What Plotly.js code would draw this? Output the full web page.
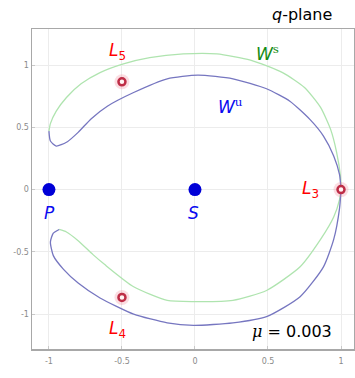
<!DOCTYPE html>
<html>
<head>
<meta charset="utf-8">
<script src="https://cdn.plot.ly/plotly-3.0.1.min.js"></script>
<style>
  html, body { margin: 0; padding: 0; background: #fff; }
  #chart { width: 355px; height: 378px; }
</style>
</head>
<body>
<div id="chart"></div>
<script>
// Primaries: P (planet) and S (sun)
const bodyNames = ['P', 'S'];
const bodyX = [-1.0, 0.0];
const bodyY = [0.0, 0.0];

// Lagrange points L3, L4, L5
const lagrNames = ['L3', 'L4', 'L5'];
const lagrX = [1.0, -0.5, -0.5];
const lagrY = [0.0, -0.866, 0.866];

// Upper branch of the unstable manifold W^u (inner curve, L3 -> hook near P)
const wuUpperX = [1.0, 0.99, 0.95, 0.88, 0.79, 0.65, 0.49, 0.26, 0.02, -0.19, -0.42, -0.60, -0.71, -0.80, -0.88, -0.95, -0.99, -1.0];
const wuUpperY = [0.0, 0.12, 0.27, 0.43, 0.56, 0.71, 0.81, 0.89, 0.92, 0.89, 0.78, 0.67, 0.57, 0.46, 0.38, 0.35, 0.39, 0.47];

// Upper branch of the stable manifold W^s (outer curve, hook -> L3)
const wsUpperX = [-1.0, -0.99, -0.95, -0.88, -0.78, -0.65, -0.49, -0.31, -0.08, 0.15, 0.38, 0.60, 0.75, 0.86, 0.93, 0.97, 0.995, 1.0];
const wsUpperY = [0.47, 0.53, 0.63, 0.74, 0.85, 0.94, 1.01, 1.06, 1.09, 1.09, 1.04, 0.94, 0.82, 0.66, 0.48, 0.30, 0.12, 0.0];

// Lower branch of W^u (outer curve, L3 -> hook near P)
const wuLowerX = [1.0, 0.99, 0.95, 0.88, 0.72, 0.49, 0.26, -0.01, -0.19, -0.42, -0.65, -0.80, -0.90, -0.97, -0.99, -0.97, -0.93];
const wuLowerY = [0.0, -0.15, -0.40, -0.62, -0.86, -1.02, -1.07, -1.09, -1.07, -1.0, -0.87, -0.75, -0.64, -0.53, -0.42, -0.35, -0.32];

// Lower branch of W^s (inner curve, hook -> L3)
const wsLowerX = [-0.93, -0.88, -0.80, -0.70, -0.62, -0.42, -0.19, -0.01, 0.26, 0.49, 0.72, 0.86, 0.95, 0.99, 1.0];
const wsLowerY = [-0.32, -0.34, -0.41, -0.52, -0.60, -0.78, -0.89, -0.90, -0.89, -0.81, -0.62, -0.40, -0.22, -0.08, 0.0];

const tickVals = [-1, -0.5, 0, 0.5, 1];
const tickText = ['-1', '-0.5', '0', '0.5', '1'];

const muValue = '0.003';

const blueLine = 'rgb(118,118,192)';
const greenLine = 'rgb(175,228,175)';

function curve(x, y, color) {
  return {
    x: x, y: y, type: 'scatter', mode: 'lines',
    line: { color: color, width: 1.3, shape: 'spline', smoothing: 0.6 },
    hoverinfo: 'skip', showlegend: false
  };
}

const traces = [
  curve(wsUpperX, wsUpperY, greenLine),
  curve(wsLowerX, wsLowerY, greenLine),
  curve(wuUpperX, wuUpperY, blueLine),
  curve(wuLowerX, wuLowerY, blueLine),
  // soft halo round the Lagrange points
  {
    x: lagrX, y: lagrY, type: 'scatter', mode: 'markers',
    marker: { size: 15, color: 'rgba(240,120,140,0.25)', line: { width: 0 } },
    hoverinfo: 'skip', showlegend: false
  },
  {
    x: lagrX, y: lagrY, type: 'scatter', mode: 'markers',
    marker: { size: 7, color: '#fff4f4', line: { color: 'rgb(190,45,70)', width: 2.5 } },
    hoverinfo: 'skip', showlegend: false
  },
  {
    x: bodyX, y: bodyY, type: 'scatter', mode: 'markers',
    marker: { size: 13, color: 'rgb(0,0,215)', line: { width: 0 } },
    hoverinfo: 'skip', showlegend: false
  }
];

const labFont = { family: 'DejaVu Sans', size: 17 };
const red = 'rgb(255,0,0)';
const blue = 'rgb(10,10,240)';

function lab(text, x, y, color, dx, dy) {
  return {
    text: text, x: x, y: y, xref: 'x', yref: 'y',
    xshift: dx, yshift: dy, showarrow: false,
    font: Object.assign({}, labFont, { color: color })
  };
}

const annotations = [
  lab('<i>L</i><sub>3</sub>', lagrX[0], lagrY[0], red, -31, 0),
  lab('<i>L</i><sub>4</sub>', lagrX[1], lagrY[1], red, -4, -32),
  lab('<i>L</i><sub>5</sub>', lagrX[2], lagrY[2], red, -4, 30),
  lab('<i>P</i>', bodyX[0], bodyY[0], blue, 1, -23),
  lab('<i>S</i>', bodyX[1], bodyY[1], blue, -1, -23),
  lab('<i>W</i><sup><span style="font-family:\'DejaVu Serif\'">s</span></sup>', 0.5, 1.1, 'rgb(20,140,20)', 0, 0),
  lab('<i>W</i><sup><span style="font-family:\'DejaVu Serif\'">u</span></sup>', 0.24, 0.67, blue, 0, 0),
  {
    text: '<i>q</i>-plane', xref: 'paper', yref: 'paper', x: 1, y: 1,
    xanchor: 'right', yanchor: 'bottom', xshift: -20, yshift: 3, showarrow: false,
    font: { family: 'DejaVu Sans', size: 16, color: '#000' }
  },
  {
    text: '<span style="font-family:\'DejaVu Serif\'"><i>μ</i> =</span> ' + muValue,
    xref: 'paper', yref: 'paper', x: 1, y: 0,
    xanchor: 'right', yanchor: 'bottom', xshift: -20, yshift: 6, showarrow: false,
    font: { family: 'DejaVu Sans', size: 16, color: '#000' }
  }
];

const axisCommon = {
  tickmode: 'array', tickvals: tickVals, ticktext: tickText,
  showgrid: true, gridcolor: '#ececec', gridwidth: 1,
  zeroline: false, showline: true, linecolor: '#a8a8a8', linewidth: 1.5,
  mirror: true, ticks: 'inside', ticklen: 3, tickcolor: '#c8c8c8',
  tickfont: { family: 'DejaVu Sans', size: 8, color: '#8a8a8a' }, fixedrange: true
};

const layout = {
  width: 355, height: 378,
  margin: { l: 32, r: 1, t: 29, b: 29 },
  paper_bgcolor: '#fff', plot_bgcolor: '#fff',
  showlegend: false,
  xaxis: Object.assign({}, axisCommon, { range: [-1.116, 1.089], ticklabelstandoff: 4 }),
  yaxis: Object.assign({}, axisCommon, { range: [-1.28, 1.29] }),
  annotations: annotations
};

Plotly.newPlot('chart', traces, layout, { displayModeBar: false, staticPlot: true });
</script>
</body>
</html>
